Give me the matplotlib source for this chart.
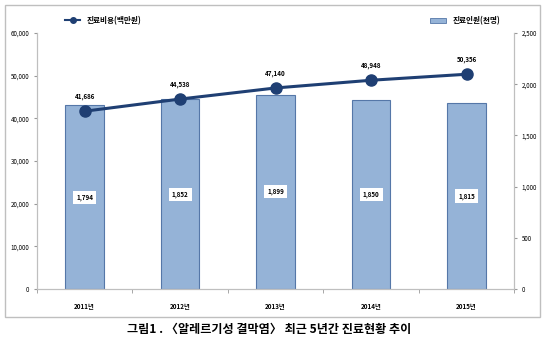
import numpy as np
import matplotlib.pyplot as plt
from matplotlib.patches import Rectangle
from matplotlib.lines import Line2D

plt.rcParams['font.family'] = ['Noto Sans CJK KR', 'DejaVu Sans']

years = ['2011년', '2012년', '2013년', '2014년', '2015년']
cost = [41686, 44538, 47140, 48948, 50356]      # 진료비용(백만원)
patients = [1794, 1852, 1899, 1850, 1815]       # 진료인원(천명)

fig = plt.figure(figsize=(5.5, 3.38), dpi=100)
fig.patches.append(Rectangle((0.009, 0.062), 0.973, 0.923, transform=fig.transFigure,
                             fill=False, edgecolor='#bfbfbf', linewidth=1.0))

ax = fig.add_axes([0.067, 0.145, 0.868, 0.757])
ax2 = ax.twinx()
ax.set_zorder(ax2.get_zorder() + 1)
ax.patch.set_visible(False)

x = np.arange(len(years))
ax2.bar(x, patients, width=0.4, color='#95b3d7', edgecolor='#5577a8', linewidth=0.8)
for xi, v in zip(x, patients):
    ax2.text(xi, v / 2, f'{v:,}', ha='center', va='center', fontsize=4.5, fontweight='bold',
             bbox=dict(boxstyle='square,pad=0.5', fc='white', ec='none'))

ax.plot(x, cost, color='#1f3f73', linewidth=2.2, marker='o', markersize=8)
for xi, v in zip(x, cost):
    ax.text(xi, v + 2600, f'{v:,}', ha='center', va='bottom', fontsize=4.5, fontweight='bold')

ax.set_xlim(-0.5, 4.5)
ax.set_ylim(0, 60000)
ax2.set_ylim(0, 2500)
ax.set_yticks(np.arange(0, 60001, 10000))
ax.set_yticklabels([f'{t:,}' for t in range(0, 60001, 10000)])
ax2.set_yticks(np.arange(0, 2501, 500))
ax2.set_yticklabels([f'{t:,}' for t in range(0, 2501, 500)])

ax.set_xticks(x)
ax.set_xticklabels(years, fontweight='bold')
ax.set_xticks(np.arange(-0.5, 5, 1), minor=True)
ax.tick_params(axis='x', which='major', length=0, labelsize=4.5, pad=10)
ax.tick_params(axis='x', which='minor', length=3, color='#999999')
ax.tick_params(axis='y', length=2, labelsize=4.5, color='#999999')
ax2.tick_params(axis='y', length=2, labelsize=4.5, color='#999999')

for a in (ax, ax2):
    a.spines['top'].set_visible(False)
    for s in ('left', 'right', 'bottom'):
        a.spines[s].set_color('#bfbfbf')
        a.spines[s].set_linewidth(0.8)

h1 = [Line2D([0], [0], color='#1f3f73', lw=1.5, marker='o', markersize=4)]
ax.legend(h1, ['진료비용(백만원)'], loc='lower left', bbox_to_anchor=(0.045, 1.005),
          frameon=False, handlelength=2, prop={'weight': 'bold', 'size': 5.5})
h2 = [Rectangle((0, 0), 1, 1, fc='#95b3d7', ec='#5577a8', lw=0.6)]
ax2.legend(h2, ['진료인원(천명)'], loc='lower right', bbox_to_anchor=(0.985, 1.005),
           frameon=False, handlelength=2.2, handleheight=0.6, prop={'weight': 'bold', 'size': 5.5})

fig.text(0.49, 0.024, '그림1 . 〈알레르기성 결막염〉 최근 5년간 진료현황 추이',
         ha='center', va='center', fontsize=8.7, fontweight='bold')

fig.savefig('out.png', dpi=100)
